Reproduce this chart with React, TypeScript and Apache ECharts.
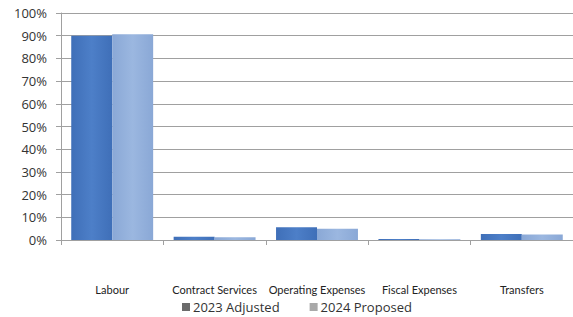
import React, { useEffect, useRef } from "react";
import * as echarts from "echarts";

const categories = ["Labour", "Contract Services", "Operating Expenses", "Fiscal Expenses", "Transfers"];
const adjusted2023 = [90.0, 1.4, 5.6, 0.4, 2.6];
const proposed2024 = [90.6, 1.2, 5.0, 0.3, 2.4];
const seriesNames = ["2023 Adjusted", "2024 Proposed"];

export default function App() {
  const ref = useRef<HTMLDivElement>(null);
  useEffect(() => {
    const chart = echarts.init(ref.current!, null, { renderer: "svg" });
    chart.setOption({
      animation: false,
      backgroundColor: "#ffffff",
      grid: { left: 61, right: 0, top: 13, bottom: 77, containLabel: false },
      legend: {
        data: [
          { name: seriesNames[0], itemStyle: { color: "#6b6b6b" } },
          { name: seriesNames[1], itemStyle: { color: "#a9a9a9" } },
        ],
        left: 182,
        top: 299,
        padding: 0,
        itemWidth: 8,
        itemHeight: 8,
        itemGap: 30,
        icon: "rect",
        textStyle: { fontFamily: "Open Sans", fontSize: 13, lineHeight: 16, color: "#333333", padding: [0, 0, 0, -2] },
      },
      xAxis: {
        type: "category",
        data: categories,
        axisLine: { show: true, lineStyle: { color: "#a0a0a0", width: 1 } },
        axisTick: { show: true, length: 5, lineStyle: { color: "#a0a0a0" } },
        axisLabel: { interval: 0, hideOverlap: false, margin: 44, fontFamily: "Lato", fontSize: 11, color: "#222222" },
      },
      yAxis: {
        type: "value",
        min: 0,
        max: 100,
        interval: 10,
        axisLine: { show: true, lineStyle: { color: "#a0a0a0", width: 1 } },
        axisTick: { show: true, length: 5, lineStyle: { color: "#a0a0a0" } },
        splitLine: { show: true, lineStyle: { color: "#a0a0a0", width: 1 } },
        axisLabel: {
          formatter: "{value}%",
          margin: 14,
          fontFamily: "Open Sans",
          fontSize: 13,
          color: "#333333",
        },
      },
      series: [
        {
          name: seriesNames[0],
          type: "bar",
          data: adjusted2023,
          barGap: "0%",
          barCategoryGap: "20%",
          itemStyle: {
            color: new echarts.graphic.LinearGradient(0, 0, 1, 0, [
              { offset: 0, color: "#3f6fb8" },
              { offset: 0.5, color: "#4d7fc8" },
              { offset: 1, color: "#3f6fb8" },
            ]),
          },
        },
        {
          name: seriesNames[1],
          type: "bar",
          data: proposed2024,
          itemStyle: {
            color: new echarts.graphic.LinearGradient(0, 0, 1, 0, [
              { offset: 0, color: "#8aa8d6" },
              { offset: 0.5, color: "#9bb7e0" },
              { offset: 1, color: "#8aa8d6" },
            ]),
          },
        },
      ],
    });
    return () => chart.dispose();
  }, []);
  return <div ref={ref} style={{ width: 573, height: 317, position: "absolute", left: 0, top: 0 }} />;
}
